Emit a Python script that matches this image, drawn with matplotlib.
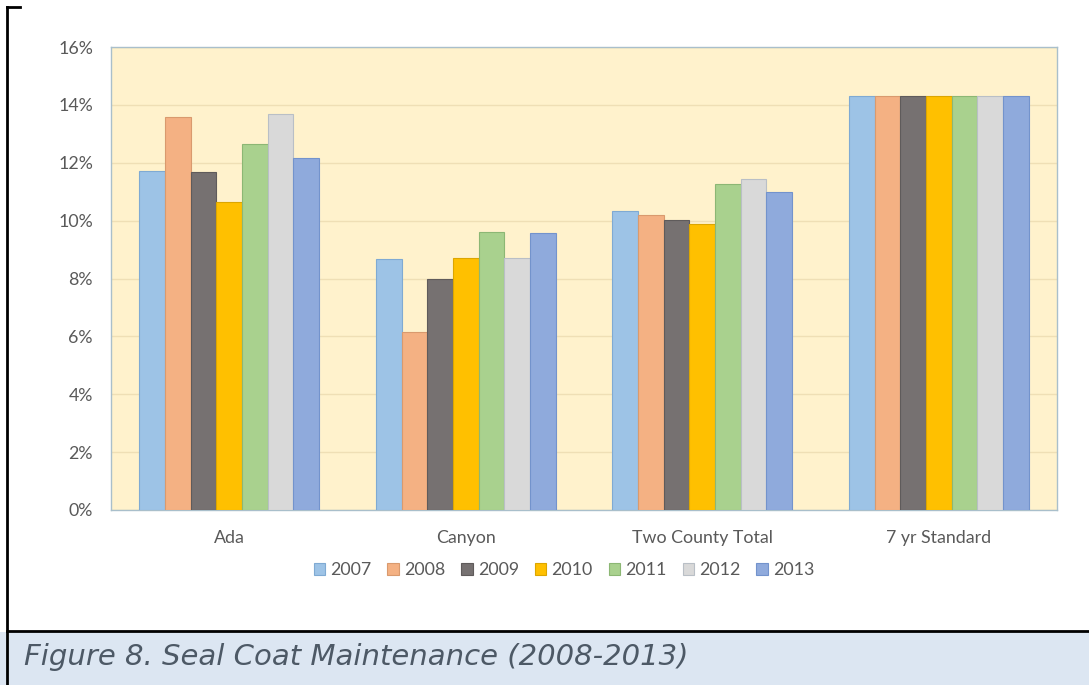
import numpy as np
import matplotlib.pyplot as plt
from matplotlib.lines import Line2D
from matplotlib.patches import Rectangle
from matplotlib.ticker import FuncFormatter

plt.rcParams['font.family'] = ['Lato', 'DejaVu Sans']

# data (percent)
categories = ['Ada', 'Canyon', 'Two County Total', '7 yr Standard']
years = ['2007', '2008', '2009', '2010', '2011', '2012', '2013']
ada = [11.72, 13.58, 11.68, 10.65, 12.65, 13.67, 12.17]
canyon = [8.67, 6.15, 7.97, 8.72, 9.62, 8.72, 9.56]
two_county = [10.34, 10.18, 10.03, 9.87, 11.28, 11.43, 11.00]
standard = [14.29, 14.29, 14.29, 14.29, 14.29, 14.29, 14.29]

colors = ['#9DC3E6', '#F4B183', '#767171', '#FFC000', '#A9D18E', '#D9D9D9', '#8FAADC']
edges = ['#7FAAD3', '#D99A6E', '#5F5B5B', '#DCA600', '#8CB774', '#B9BFC6', '#7393CC']

values = np.array([ada, canyon, two_county, standard])  # category x year

fig = plt.figure(figsize=(10.89, 6.85), dpi=100)
ax = fig.add_axes([111 / 1089, 1 - 510 / 685, 946 / 1089, 463 / 685])

ax.set_facecolor('#FFF2CC')
x = np.arange(len(categories))
group_w = 0.76
bw = group_w / len(years)
for i, yr in enumerate(years):
    ax.bar(x - group_w / 2 + bw * (i + 0.5), values[:, i], width=bw,
           color=colors[i], edgecolor=edges[i], linewidth=0.8, label=yr, zorder=3)

ax.set_xlim(-0.5, len(categories) - 0.5)
ax.set_ylim(0, 16)
ax.set_yticks(np.arange(0, 17, 2))
ax.yaxis.set_major_formatter(FuncFormatter(lambda v, p: '%d%%' % v))
ax.set_xticks(x)
ax.set_xticklabels(categories)
ax.grid(axis='y', color='#EFDFB5', linewidth=1, zorder=0)
ax.tick_params(axis='both', length=0, labelsize=12.8, labelcolor='#595959')
ax.tick_params(axis='y', pad=13)
ax.tick_params(axis='x', pad=14.5)
for s in ax.spines.values():
    s.set_color('#A9BFCB')
    s.set_linewidth(1)

ax.legend(loc='center', bbox_to_anchor=(564 / 1089, 1 - 570 / 685),
          bbox_transform=fig.transFigure, ncol=7, frameon=False,
          fontsize=12.8, labelcolor='#595959', handlelength=0.65, handleheight=0.65,
          handletextpad=0.28, columnspacing=0.9)

# document frame and caption band
fig.patches.append(Rectangle((0, 0), 1, 1 - 632 / 685, transform=fig.transFigure,
                             facecolor='#DCE6F2', edgecolor='none', zorder=0))
fig.lines.append(Line2D([7 / 1089, 7 / 1089], [0, 1 - 7 / 685], transform=fig.transFigure,
                        color='black', linewidth=2))
fig.lines.append(Line2D([7 / 1089, 20 / 1089], [1 - 7 / 685, 1 - 7 / 685],
                        transform=fig.transFigure, color='black', linewidth=2))
fig.lines.append(Line2D([7 / 1089, 1], [1 - 631 / 685, 1 - 631 / 685],
                        transform=fig.transFigure, color='black', linewidth=2))
fig.text(24 / 1089, 1 - 657 / 685, 'Figure 8. Seal Coat Maintenance (2008-2013)',
         family='DejaVu Sans', style='italic', fontsize=21, color='#4D5966', va='center')

fig.savefig('out.png', dpi=100)
